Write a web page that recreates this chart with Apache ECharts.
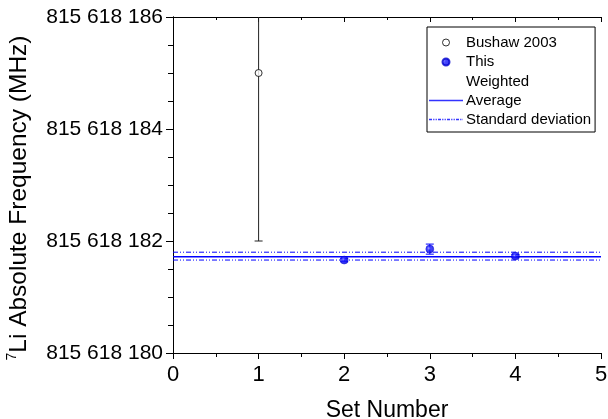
<!DOCTYPE html>
<html><head><meta charset="utf-8">
<script src="https://cdn.jsdelivr.net/npm/echarts@6/dist/echarts.min.js"></script>
<style>html,body{margin:0;padding:0;background:#fff}#c{width:608px;height:419px}</style>
</head><body><div id="c"></div>
<script>
// Data
const bushawX = [1];
const bushawY = [815618185.0];
const bushawErr = [3.0];
const thisX = [2, 3, 4];
const thisY = [815618181.66, 815618181.855, 815618181.73];
const thisErr = [0.03, 0.09, 0.03];
const weightedAverage = 815618181.72;
const stdUpper = 815618181.80;
const stdLower = 815618181.66;
const xRange = [0, 5];
const yRange = [815618180, 815618186];
const yInterval = 2;

const font = 'Arial, "Liberation Sans", sans-serif';
const fmtY = v => String(Math.round(v)).replace(/(\d{3})(\d{3})(\d{3})/, '$1 $2 $3');

function errBar(color, capW) {
  return function (params, api) {
    const x = api.value(0), y = api.value(1), e = api.value(2);
    const lo = y - e, hi = y + e;
    const ymax = yRange[1], ymin = yRange[0];
    const p0 = api.coord([x, Math.max(lo, ymin)]);
    const p1 = api.coord([x, Math.min(hi, ymax)]);
    const children = [{type: 'line', shape: {x1: p0[0], y1: p0[1], x2: p1[0], y2: p1[1]}, style: {stroke: color, lineWidth: 1}}];
    if (lo >= ymin) children.push({type: 'line', shape: {x1: p0[0] - capW, y1: p0[1], x2: p0[0] + capW, y2: p0[1]}, style: {stroke: color, lineWidth: 1}});
    if (hi <= ymax) children.push({type: 'line', shape: {x1: p1[0] - capW, y1: p1[1], x2: p1[0] + capW, y2: p1[1]}, style: {stroke: color, lineWidth: 1}});
    return {type: 'group', children};
  };
}

// legend icons (34 x 14 box)
const smallCircle = 'path://M0 0M34 14M13.5 7a3.5 3.5 0 1 0 7 0a3.5 3.5 0 1 0 -7 0Z';
const solidLineIcon = 'path://M0 0M34 14M0 6.3L34 6.3L34 7.7L0 7.7Z';
function dashIcon(pattern) {
  let d = 'path://M0 0M34 14', x = 0, i = 0;
  while (x < 34) {
    const len = pattern[i % pattern.length];
    if (i % 2 === 0) { const e = Math.min(34, x + len); d += `M${x} 6.3L${e} 6.3L${e} 7.7L${x} 7.7Z`; }
    x += len; i++;
  }
  return d;
}
const dashDot = [5, 2, 1, 2, 1, 2];
const legendDash = [3, 1.2, 1.2, 1.2, 1.2, 1.2];

const chart = echarts.init(document.getElementById('c'), null, {renderer: 'canvas'});
const blueBall = {type: 'radial', x: 0.4, y: 0.4, r: 0.6, colorStops: [{offset: 0, color: '#9999ff'}, {offset: 0.35, color: '#1a1aff'}, {offset: 1, color: '#0000dd'}]};
const blueIconStyle = {color: '#3333ff', borderColor: 'transparent', borderWidth: 0, opacity: 1};
chart.setOption({
  animation: false,
  backgroundColor: '#fff',
  textStyle: {fontFamily: font},
  grid: {left: 173, right: 7, top: 17, bottom: 66, containLabel: false, outerBoundsMode: 'none'},
  legend: {
    orient: 'vertical', left: 427, top: 27,
    borderColor: '#000', borderWidth: 1, padding: [8, 4, 5, 1],
    itemGap: 4, itemWidth: 34, itemHeight: 14,
    textStyle: {fontFamily: font, fontSize: 15, color: '#000', padding: [0, 0, 0, -2]},
    data: [
      {name: 'Bushaw 2003', icon: smallCircle, itemStyle: {color: '#fff', borderColor: '#000', borderWidth: 1}},
      {name: 'This', icon: smallCircle},
      {name: 'Weighted', icon: 'rect', itemStyle: {opacity: 0}},
      {name: 'Average', icon: solidLineIcon, itemStyle: blueIconStyle},
      {name: 'Standard deviation', icon: dashIcon(legendDash), itemStyle: blueIconStyle}
    ]
  },
  xAxis: [{
    type: 'value', min: xRange[0], max: xRange[1], interval: 1,
    name: 'Set Number', nameLocation: 'middle', nameGap: 46,
    nameTextStyle: {fontSize: 23, color: '#000', fontFamily: font},
    axisLine: {lineStyle: {color: '#000', width: 1}},
    axisTick: {inside: false, length: 6, lineStyle: {color: '#000'}},
    minorTick: {show: true, splitNumber: 2, length: 4, lineStyle: {color: '#000'}},
    axisLabel: {fontSize: 22, color: '#000', margin: 11, fontFamily: font},
    splitLine: {show: false}
  }, {
    type: 'value', position: 'top', min: xRange[0], max: xRange[1], interval: 1,
    axisLine: {lineStyle: {color: '#000'}},
    axisTick: {inside: true, length: 5, lineStyle: {color: '#000'}},
    minorTick: {show: true, splitNumber: 2, length: 3, lineStyle: {color: '#000'}},
    axisLabel: {show: false}, splitLine: {show: false}
  }],
  yAxis: [{
    type: 'value', min: yRange[0], max: yRange[1], interval: yInterval,
    name: '{sup|7}{m|Li Absolute Frequency (MHz)}', nameLocation: 'middle', nameGap: 140, nameRotate: 90,
    nameTextStyle: {color: '#000', fontFamily: font, fontSize: 24.5, padding: [0, 26, 0, 0],
      rich: {sup: {fontSize: 14, verticalAlign: 'top', lineHeight: 28, fontFamily: font, color: '#000'},
             m: {fontSize: 24.5, lineHeight: 28, fontFamily: font, color: '#000'}}},
    axisLine: {show: true, lineStyle: {color: '#000', width: 1}},
    axisTick: {show: true, inside: false, length: 7, lineStyle: {color: '#000'}},
    minorTick: {show: true, splitNumber: 4, length: 5, lineStyle: {color: '#000'}},
    axisLabel: {fontSize: 21, color: '#000', margin: 10, fontFamily: font, formatter: fmtY},
    splitLine: {show: false}
  }, {
    type: 'value', position: 'right', min: yRange[0], max: yRange[1], interval: yInterval,
    axisLine: {show: true, lineStyle: {color: '#000'}},
    axisTick: {show: true, inside: true, length: 5, lineStyle: {color: '#000'}},
    minorTick: {show: true, splitNumber: 4, length: 3, lineStyle: {color: '#000'}},
    axisLabel: {show: false}, splitLine: {show: false}
  }],
  series: [
    {
      name: 'Bushaw err', type: 'custom', renderItem: errBar('#222', 4), silent: true, z: 2,
      data: bushawX.map((x, i) => [x, bushawY[i], bushawErr[i]])
    },
    {
      name: 'Bushaw 2003', type: 'scatter', symbol: 'circle', symbolSize: 7, z: 5,
      itemStyle: {color: '#fff', borderColor: '#000', borderWidth: 1},
      data: bushawX.map((x, i) => [x, bushawY[i]])
    },
    {
      name: 'This err', type: 'custom', renderItem: errBar('#0000ff', 4), silent: true, z: 2,
      data: thisX.map((x, i) => [x, thisY[i], thisErr[i]])
    },
    {
      name: 'This', type: 'scatter', symbol: 'circle', symbolSize: 8, z: 5,
      itemStyle: {color: blueBall, borderColor: '#0000cc', borderWidth: 0.5},
      data: thisX.map((x, i) => [x, thisY[i]])
    },
    {name: 'Weighted', type: 'scatter', data: []},
    {
      name: 'Average', type: 'line', symbol: 'none', z: 3,
      lineStyle: {color: '#0000ff', width: 1.5}, itemStyle: {color: '#0000ff'},
      data: [[xRange[0], weightedAverage], [xRange[1], weightedAverage]]
    },
    // legend entry for the standard-deviation lines
    {name: 'Standard deviation', type: 'scatter', data: [], itemStyle: {color: '#3333ff'}},
    {
      name: 'Std lines', type: 'line', symbol: 'none', z: 3,
      lineStyle: {color: '#0000ff', width: 1, type: dashDot}, itemStyle: {color: '#0000ff'},
      data: [[xRange[0], stdUpper], [xRange[1], stdUpper], '-', [xRange[0], stdLower], [xRange[1], stdLower]],
      connectNulls: false
    }
  ]
});
</script></body></html>
